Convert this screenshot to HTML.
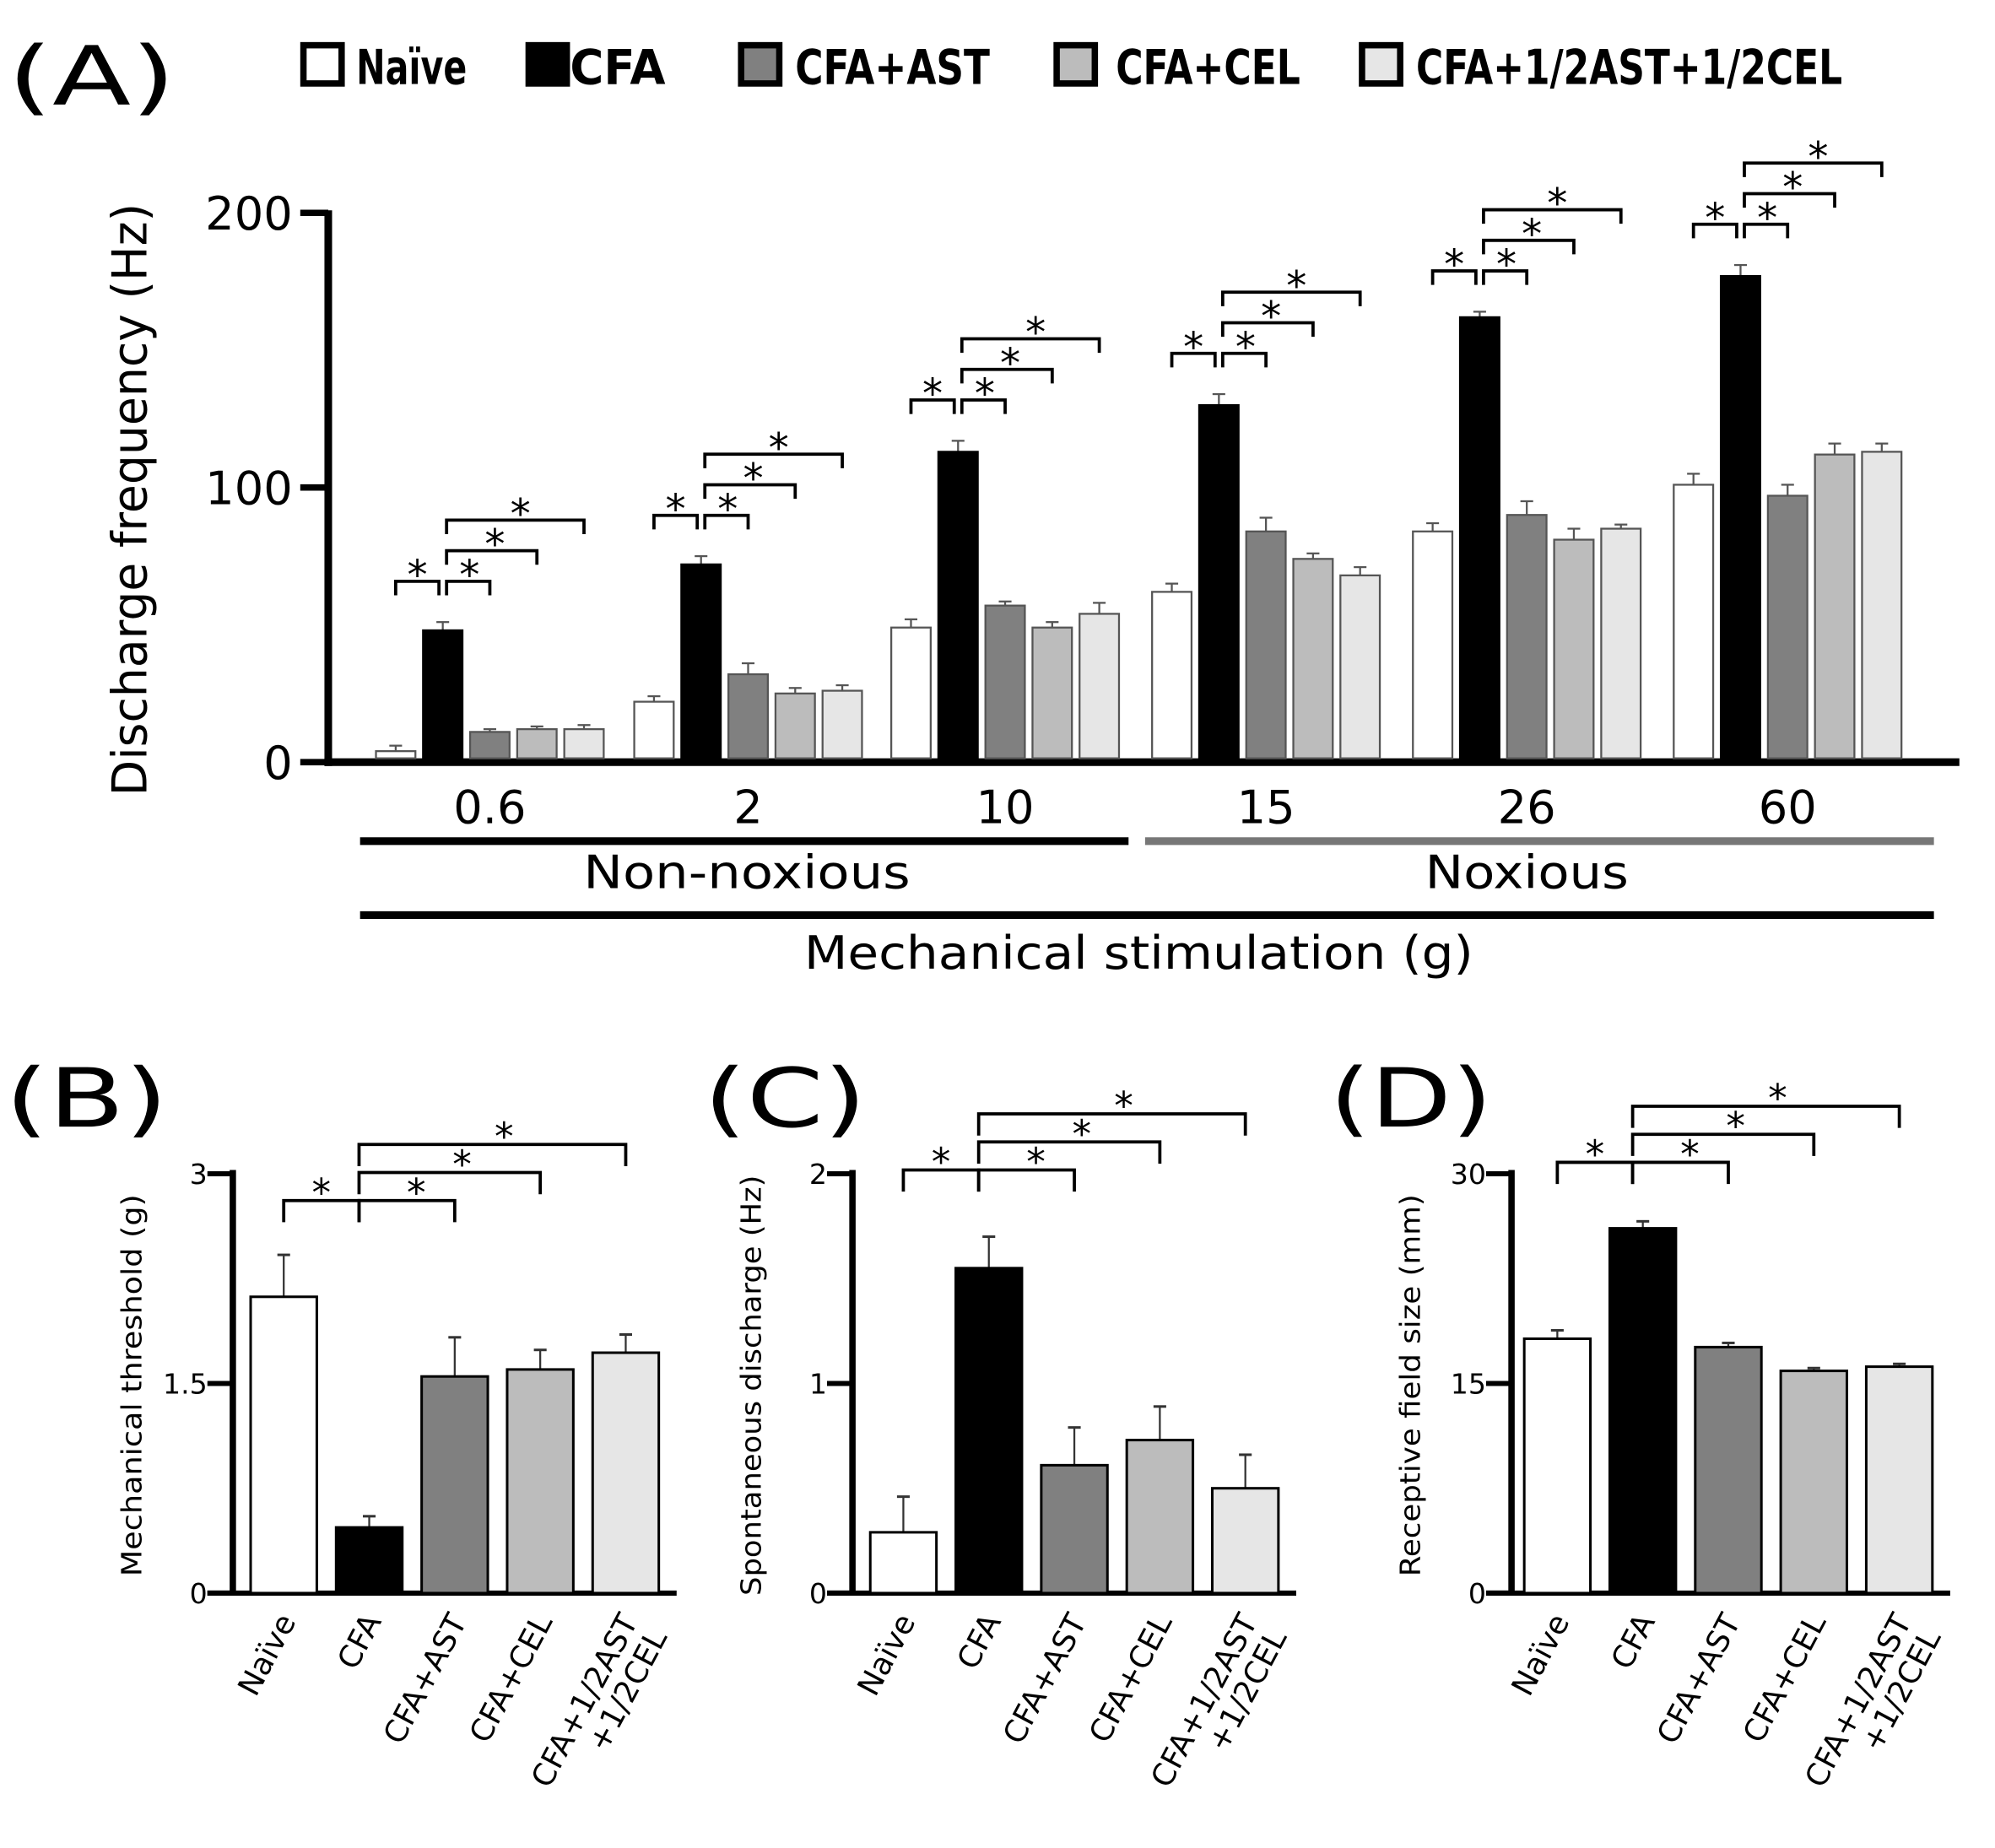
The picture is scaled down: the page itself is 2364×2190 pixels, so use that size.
<!DOCTYPE html>
<html><head><meta charset="utf-8"><style>
html,body{margin:0;padding:0;background:#fff;}
svg{display:block;}
text{font-family:"DejaVu Sans","Liberation Sans",sans-serif;}
</style></head><body>
<svg id="fig" width="2364" height="2190" viewBox="0 0 1568 1450" preserveAspectRatio="none" xmlns="http://www.w3.org/2000/svg">
<rect width="1568" height="1450" fill="#fff"/>
<g id="gA"></g>
<g id="gB"></g>
<g id="gC"></g>
<g id="gD"></g>
</svg>
<script>
const groupNames = ["Naïve","CFA","CFA+AST","CFA+CEL","CFA+1/2AST+1/2CEL"];
const colors = ["#ffffff","#000000","#808080","#bcbcbc","#e6e6e6"];
const stimCats = ["0.6","2","10","15","26","60"];
const aNaive = [4,22,49,62,84,101];
const aCFA = [48,72,113,130,162,177];
const aAST = [11,32,57,84,90,97];
const aCEL = [12,25,49,74,81,112];
const aMix = [12,26,54,68,85,113];
const aErrNaive = [2,2,3,3,3,4];
const aErrCFA = [3,3,4,4,2,4];
const aErrAST = [1,4,1.5,5,5,4];
const aErrCEL = [1,2,2,2,4,4];
const aErrMix = [1.5,2,4,3,1.5,3];
const aTicks = [0,100,200];

const bVals = [2.12,0.47,1.55,1.6,1.72];
const bErr = [0.3,0.08,0.28,0.14,0.13];
const bTicks = ["0","1.5","3"];
const cVals = [0.29,1.55,0.61,0.73,0.5];
const cErr = [0.17,0.15,0.18,0.16,0.16];
const cTicks = ["0","1","2"];
const dVals = [18.2,26.1,17.6,15.9,16.2];
const dErr = [0.6,0.5,0.3,0.2,0.2];
const dTicks = ["0","15","30"];

const NS="http://www.w3.org/2000/svg";
function mk(parent,tag,attrs,txt){const e=document.createElementNS(NS,tag);for(const k in attrs)e.setAttribute(k,attrs[k]);if(txt!==undefined)e.textContent=txt;parent.appendChild(e);return e;}

// ---------- Panel A ----------
const A=document.getElementById('gA');
const ax0=258, ay0=598, ayTop=167, aMax=200;
const ay=v=>ay0-(v/aMax)*(ay0-ayTop);
const groupCenters=[385,588,790,995,1200,1405];
const ax=(g,s)=>groupCenters[g]+(s-2)*37;
const series=[aNaive,aCFA,aAST,aCEL,aMix];
const errs=[aErrNaive,aErrCFA,aErrAST,aErrCEL,aErrMix];
let t;
t=mk(A,'text',{x:6,y:82,'font-size':64,textLength:132,lengthAdjust:'spacingAndGlyphs'},'(A)');

// legend
const legX=[236,413,580,828,1068];
const legTX=[280,448,625,877,1113];
const legW=[87,75,153,145,335];
groupNames.forEach((n,i)=>{
  const r=mk(A,'rect',{x:legX[i]+2.5,y:35.5,width:30,height:30,fill:colors[i],stroke:'#000','stroke-width':5});
  
  const tt=mk(A,'text',{x:legTX[i],y:66,'font-size':38,'font-weight':'bold',textLength:legW[i],lengthAdjust:'spacingAndGlyphs'},n);
  
});
// axes
let l=mk(A,'line',{x1:ax0,y1:ayTop-2,x2:ax0,y2:ay0+3,stroke:'#000','stroke-width':6});

l=mk(A,'line',{x1:ax0-3,y1:ay0,x2:1540,y2:ay0,stroke:'#000','stroke-width':6});

aTicks.forEach(v=>{
  mk(A,'line',{x1:ax0-22,y1:ay(v),x2:ax0,y2:ay(v),stroke:'#000','stroke-width':5});
  const tt=mk(A,'text',{x:ax0-28,y:ay(v)+13,'font-size':36,'text-anchor':'end'},String(v));
  
});
t=mk(A,'text',{x:0,y:0,'font-size':38,'text-anchor':'middle',textLength:465,lengthAdjust:'spacingAndGlyphs',transform:'translate(115,392) rotate(-90)'},'Discharge frequency (Hz)');

stimCats.forEach((c,g)=>{
  series.forEach((s,i)=>{
    const x=ax(g,i),w=31,v=s[g],e=errs[i][g];
    mk(A,'line',{x1:x,y1:ay(v),x2:x,y2:ay(v+e),stroke:'#555','stroke-width':1.5});
    mk(A,'line',{x1:x-5,y1:ay(v+e),x2:x+5,y2:ay(v+e),stroke:'#555','stroke-width':1.5});
    const r=mk(A,'rect',{x:x-w/2,y:ay(v),width:w,height:ay0-3-ay(v),fill:colors[i],stroke:i==1?'#000':'#555','stroke-width':1.5});
    
  });
  const tt=mk(A,'text',{x:groupCenters[g],y:646,'font-size':36,'text-anchor':'middle'},c);
  
  const base=ay(aCFA[g]+aErrCFA[g])-32;
  const br=[[0,1,base,0],[1,2,base,21],[1,3,base-24,41],[1,4,base-48,61]];
  br.forEach(([a,b,y,off])=>{
    const x1=ax(g,a)+(a==1?3:0),x2=ax(g,b)-(b==1?3:0);
    const p=mk(A,'path',{d:`M${x1},${y+11}V${y}H${x2}V${y+11}`,fill:'none',stroke:'#000','stroke-width':2.5});
    
    mk(A,'text',{x:(a==1?ax(g,1)+off:(x1+x2)/2),y:y+6,'font-size':32,'text-anchor':'middle'},'*');
  });
});
l=mk(A,'line',{x1:283,y1:660,x2:887,y2:660,stroke:'#000','stroke-width':6});

l=mk(A,'line',{x1:900,y1:660,x2:1520,y2:660,stroke:'#777','stroke-width':6});

l=mk(A,'line',{x1:283,y1:718,x2:1520,y2:718,stroke:'#000','stroke-width':6});

t=mk(A,'text',{x:587,y:697,'font-size':36,'text-anchor':'middle',textLength:257,lengthAdjust:'spacingAndGlyphs'},'Non-noxious');

t=mk(A,'text',{x:1200,y:697,'font-size':36,'text-anchor':'middle',textLength:160,lengthAdjust:'spacingAndGlyphs'},'Noxious');

t=mk(A,'text',{x:895,y:760,'font-size':36,'text-anchor':'middle',textLength:526,lengthAdjust:'spacingAndGlyphs'},'Mechanical stimulation (g)');


// ---------- Small panels ----------
const xLabels=["Naïve","CFA","CFA+AST","CFA+CEL",["CFA+1/2AST","+1/2CEL"]];
function small(id,letter,letterX,axX,firstOff,vals,err,ticks,maxV,title,titleLen,baseY){
  const G=document.getElementById(id);
  const y0=1250,yT=921;
  const y=v=>y0-(v/maxV)*(y0-yT);
  const bx=i=>axX+firstOff+i*67.2;
  let tt=mk(G,'text',{x:letterX,y:884,'font-size':64,textLength:128,lengthAdjust:'spacingAndGlyphs'},letter);
  
  let ln=mk(G,'line',{x1:axX,y1:yT-3,x2:axX,y2:y0+2,stroke:'#000','stroke-width':5});
  
  ln=mk(G,'line',{x1:axX-20,y1:y0,x2:bx(4)+40,y2:y0,stroke:'#000','stroke-width':4});
  
  ticks.forEach((tk,i)=>{
    const v=maxV*i/(ticks.length-1);
    mk(G,'line',{x1:axX-20,y1:y(v),x2:axX,y2:y(v),stroke:'#000','stroke-width':4});
    const q=mk(G,'text',{x:axX-20,y:y(v)+8,'font-size':22,'text-anchor':'end'},tk);
    
  });
  tt=mk(G,'text',{x:0,y:0,'font-size':22,'text-anchor':'middle',textLength:titleLen,lengthAdjust:'spacingAndGlyphs',transform:`translate(${axX-72},1087) rotate(-90)`},title);
  
  vals.forEach((v,i)=>{
    const x=bx(i),w=52,e=err[i];
    mk(G,'line',{x1:x,y1:y(v),x2:x,y2:y(v+e),stroke:'#333','stroke-width':1.5});
    mk(G,'line',{x1:x-5,y1:y(v+e),x2:x+5,y2:y(v+e),stroke:'#333','stroke-width':2});
    const r=mk(G,'rect',{x:x-w/2,y:y(v),width:w,height:y0-y(v),fill:colors[i],stroke:'#000','stroke-width':2});
    
    const lab=xLabels[i];
    const tx=mk(G,'text',{x:0,y:0,'font-size':24,'text-anchor':'end',transform:`translate(${x+10},1272) rotate(-62)`});
    
    if(Array.isArray(lab)){mk(tx,'tspan',{x:0,dy:0},lab[0]);mk(tx,'tspan',{x:0,dy:26},lab[1]);}
    else tx.textContent=lab;
  });
  const br=[[0,1,baseY,0],[1,2,baseY,37],[1,3,baseY-22,73],[1,4,baseY-44,106]];
  br.forEach(([a,b,yy,off])=>{
    const x1=bx(a)+(a==1?-8:0),x2=bx(b)-(b==1?8:0);
    const p=mk(G,'path',{d:`M${x1},${yy+17}V${yy}H${x2}V${yy+17}`,fill:'none',stroke:'#000','stroke-width':2.5});
    
    mk(G,'text',{x:(a==1?bx(1)+off:(x1+x2)/2),y:yy+4,'font-size':30,'text-anchor':'middle','font-family':'Liberation Serif, serif'},'*');
  });
}
small('gB','(B)',4,183,40,bVals,bErr,bTicks,3,'Mechanical threshold (g)',300,942);
small('gC','(C)',553,670,40,cVals,cErr,cTicks,2,'Spontaneous discharge (Hz)',330,918);
small('gD','(D)',1045,1188,36,dVals,dErr,dTicks,30,'Receptive field size (mm)',300,912);
</script>
</body></html>
